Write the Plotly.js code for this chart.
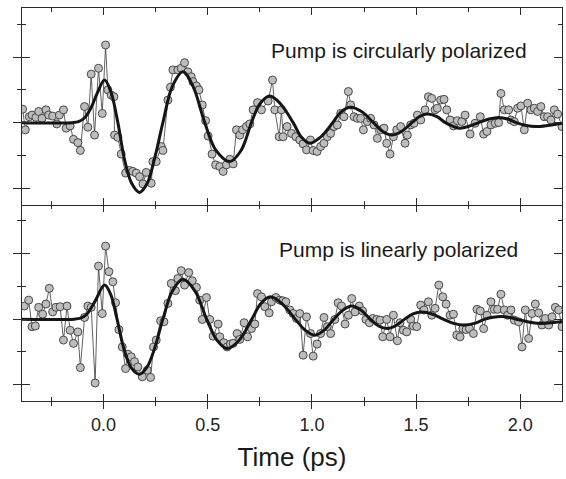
<!DOCTYPE html>
<html>
<head>
<meta charset="utf-8">
<script src="https://cdn.plot.ly/plotly-3.0.1.min.js"></script>
<style>html,body{margin:0;padding:0;background:#fff;}#chart{width:566px;height:479px;}</style>
</head>
<body>
<div id="chart"></div>
<script>
// ---- Data ----
// Top panel: pump circularly polarized (measured points)
var tTop = [-0.388,-0.375,-0.356,-0.343,-0.324,-0.311,-0.295,-0.276,-0.263,-0.244,-0.224,-0.212,-0.192,-0.179,-0.160,-0.144,-0.123,-0.111,-0.091,-0.075,-0.059,-0.043,-0.024,-0.006,0.010,0.021,0.037,0.050,0.053,0.069,0.085,0.106,0.125,0.141,0.157,0.173,0.189,0.205,0.229,0.237,0.253,0.277,0.285,0.309,0.321,0.333,0.357,0.373,0.389,0.405,0.421,0.429,0.446,0.458,0.474,0.490,0.502,0.521,0.538,0.558,0.574,0.590,0.606,0.622,0.638,0.654,0.667,0.686,0.702,0.718,0.739,0.758,0.790,0.811,0.822,0.843,0.854,0.862,0.881,0.902,0.923,0.942,0.958,0.974,0.993,1.006,1.025,1.042,1.058,1.074,1.090,1.106,1.122,1.138,1.154,1.175,1.186,1.202,1.218,1.234,1.247,1.266,1.282,1.298,1.314,1.330,1.346,1.359,1.375,1.391,1.407,1.426,1.447,1.458,1.474,1.490,1.506,1.522,1.543,1.559,1.575,1.591,1.602,1.618,1.634,1.647,1.663,1.679,1.698,1.719,1.735,1.759,1.783,1.808,1.824,1.840,1.859,1.880,1.896,1.907,1.923,1.944,1.955,1.971,1.987,2.003,2.019,2.035,2.051,2.067,2.083,2.099,2.115,2.131,2.147,2.163,2.179,2.200];
var vTop = [0.41,-0.22,0.18,0.23,0.16,0.34,0.13,0.39,0.23,0.20,-0.04,0.23,0.39,-0.17,-0.10,-0.51,-0.61,-0.85,0.49,-0.14,1.48,-0.38,1.66,0.28,2.37,1.00,0.84,0.79,-0.38,-0.45,-0.96,-1.54,-1.46,-1.49,-1.54,-1.65,-1.87,-1.52,-1.85,-1.19,-1.19,-0.73,-0.85,0.69,1.08,1.61,1.61,1.66,1.83,1.55,1.40,1.25,1.12,1.00,0.54,0.06,-0.41,-0.96,-1.29,-1.34,-1.49,-1.29,-1.12,-1.26,-0.22,-0.38,-0.22,-0.12,-0.04,0.39,0.61,0.39,0.66,1.30,0.39,-0.43,0.39,-0.43,-0.12,-0.33,-0.43,-0.53,-0.65,-0.83,-0.53,-0.85,-0.88,-0.73,-0.63,-0.43,-0.33,-0.12,-0.07,0.28,0.18,0.95,0.54,0.18,0.13,0.13,-0.22,0.03,0.13,-0.07,-0.48,-0.22,-0.17,-0.63,-0.96,-0.43,-0.22,-0.12,-0.63,-0.38,-0.07,-0.02,0.23,0.08,0.39,0.79,0.74,0.39,0.44,0.69,0.71,0.39,0.08,-0.10,0.06,0.03,0.23,-0.35,-0.02,0.18,-0.35,-0.27,-0.07,-0.02,0.00,0.89,0.39,0.39,0.08,0.03,0.44,0.51,-0.22,0.59,0.39,0.44,0.34,0.49,0.18,0.18,0.08,0.39,0.26,-0.12];
// Top panel fit curve
var tFitTop = [-0.391,-0.15,-0.12,-0.09,-0.06,-0.03,0.005,0.035,0.069,0.10,0.135,0.173,0.21,0.245,0.285,0.33,0.381,0.43,0.486,0.54,0.606,0.66,0.71,0.75,0.798,0.85,0.91,0.95,0.99,1.04,1.10,1.14,1.186,1.24,1.295,1.34,1.383,1.43,1.48,1.515,1.551,1.60,1.64,1.68,1.711,1.75,1.80,1.85,1.896,1.94,1.98,2.03,2.072,2.13,2.20];
var vFitTop = [0,0,0.03,0.15,0.45,0.90,1.30,0.95,0.0,-1.1,-1.85,-2.13,-1.85,-1.1,0.0,1.1,1.55,1.1,0.0,-0.85,-1.19,-0.85,0.0,0.57,0.81,0.57,0.0,-0.45,-0.63,-0.45,0.0,0.33,0.47,0.33,0.0,-0.27,-0.38,-0.27,0.0,0.18,0.26,0.18,0.0,-0.12,-0.17,-0.12,0.0,0.11,0.16,0.11,0.0,-0.09,-0.12,-0.09,-0.02];

// Bottom panel: pump linearly polarized (measured points)
var tBot = [-0.380,-0.359,-0.343,-0.327,-0.311,-0.292,-0.276,-0.260,-0.244,-0.228,-0.208,-0.192,-0.175,-0.160,-0.144,-0.123,-0.111,-0.091,-0.075,-0.059,-0.040,-0.024,-0.006,0.010,0.026,0.045,0.058,0.074,0.090,0.106,0.117,0.133,0.149,0.165,0.186,0.210,0.226,0.240,0.253,0.274,0.290,0.309,0.325,0.345,0.357,0.373,0.389,0.409,0.426,0.446,0.462,0.474,0.494,0.510,0.526,0.550,0.558,0.577,0.593,0.609,0.622,0.641,0.654,0.675,0.691,0.710,0.726,0.739,0.758,0.774,0.795,0.806,0.827,0.846,0.860,0.875,0.894,0.910,0.926,0.942,0.958,0.974,0.993,1.006,1.025,1.042,1.058,1.074,1.090,1.110,1.126,1.142,1.159,1.175,1.191,1.207,1.227,1.243,1.259,1.276,1.292,1.311,1.327,1.340,1.359,1.375,1.391,1.410,1.423,1.439,1.455,1.474,1.487,1.503,1.522,1.538,1.559,1.575,1.591,1.609,1.628,1.644,1.663,1.679,1.695,1.711,1.724,1.740,1.756,1.775,1.792,1.808,1.824,1.840,1.859,1.875,1.891,1.907,1.923,1.939,1.955,1.971,1.992,2.008,2.024,2.040,2.056,2.072,2.088,2.104,2.120,2.136,2.152,2.168,2.184,2.200];
var vBot = [0.40,0.58,-0.23,-0.21,0.36,0.15,0.46,0.94,0.22,0.36,0.38,-0.64,0.40,-0.34,-0.74,-0.39,-1.48,0.05,0.40,0.36,-1.95,1.62,0.17,2.23,1.45,1.14,0.50,-0.32,-0.85,-1.51,-1.07,-1.15,-1.30,-1.46,-1.76,-1.56,-1.78,-0.85,-0.64,-0.05,-0.08,0.48,1.09,0.87,1.24,1.48,1.04,1.42,1.17,0.97,0.58,-0.01,0.66,-0.01,-0.52,-0.15,-0.54,-0.72,-0.85,-0.76,-0.74,-0.44,-0.62,-0.11,-0.54,-0.29,-0.15,0.78,0.68,0.38,0.19,0.53,0.66,0.58,0.56,0.53,0.28,0.17,0.02,0.17,-1.10,0.07,-0.44,-1.13,-0.76,-0.44,0.05,-0.23,-0.44,-0.01,0.50,0.40,-0.15,0.12,0.63,0.22,0.40,0.25,-0.01,-0.11,0.02,-0.01,-0.03,-0.54,-0.01,-0.54,0.12,-0.66,-0.11,-0.34,-0.39,-0.01,-0.21,-0.23,0.43,0.28,0.53,0.12,0.33,1.04,0.68,0.46,0.12,0.15,-0.49,-0.54,-0.29,-0.32,-0.29,-0.44,0.30,0.25,-0.29,0.12,0.53,0.30,0.30,0.76,0.28,0.12,0.28,-0.03,-0.08,-0.85,0.28,-0.59,0.17,0.46,0.19,-0.18,0.02,-0.18,0.07,0.36,0.28,-0.23];
// Bottom panel fit curve
var tFitBot = [-0.391,-0.14,-0.11,-0.08,-0.04,0.005,0.035,0.065,0.10,0.135,0.173,0.21,0.245,0.285,0.33,0.381,0.44,0.495,0.545,0.593,0.65,0.712,0.755,0.801,0.86,0.92,0.97,1.015,1.06,1.105,1.15,1.19,1.235,1.28,1.32,1.36,1.40,1.445,1.485,1.527,1.58,1.63,1.68,1.727,1.78,1.83,1.87,1.91,1.95,2.00,2.06,2.10,2.15,2.20];
var vFitBot = [0,0,0.03,0.15,0.55,1.04,0.75,0.0,-0.95,-1.5,-1.68,-1.45,-0.9,0.0,0.85,1.22,0.85,0.0,-0.65,-0.90,-0.65,0.0,0.48,0.68,0.45,0.0,-0.35,-0.49,-0.33,0.0,0.28,0.40,0.28,0.0,-0.21,-0.29,-0.21,0.0,0.16,0.22,0.15,0.0,-0.13,-0.18,-0.13,0.0,0.06,0.08,0.05,-0.03,-0.11,-0.13,-0.11,-0.07];

var xTickVals = [0, 0.5, 1.0, 1.5, 2.0];
var xTickText = ['0.0', '0.5', '1.0', '1.5', '2.0'];
var panelLabels = ['Pump is circularly polarized', 'Pump is linearly polarized'];
var xTitle = 'Time (ps)';

// ---- Styles ----
var FONT = 'Liberation Sans, Arial, Helvetica, sans-serif';
var AX = '#2b2b2b';
var XR = [-0.391, 2.2];
var YR = [-2.5, 3.5];

function dataTrace(t, v, xa, ya) {
  return {x: t, y: v, xaxis: xa, yaxis: ya, type: 'scatter', mode: 'lines+markers',
    line: {color: '#3a3a3a', width: 0.8},
    marker: {size: 8, color: '#bdbdbd', line: {color: '#3a3a3a', width: 0.9}},
    hoverinfo: 'skip', showlegend: false, cliponaxis: true};
}
function fitTrace(t, v, xa, ya) {
  return {x: t, y: v, xaxis: xa, yaxis: ya, type: 'scatter', mode: 'lines',
    line: {color: '#151515', width: 3, shape: 'spline', smoothing: 1},
    hoverinfo: 'skip', showlegend: false};
}

var traces = [
  dataTrace(tTop, vTop, 'x', 'y'), fitTrace(tFitTop, vFitTop, 'x', 'y'),
  dataTrace(tBot, vBot, 'x2', 'y2'), fitTrace(tFitBot, vFitBot, 'x2', 'y2')
];

function xBase(extra) {
  var o = {range: XR, showgrid: false, zeroline: false, showline: true, linecolor: AX, linewidth: 1,
    tickvals: xTickVals, ticktext: xTickText, tickcolor: AX, tickwidth: 1, ticklen: 7,
    minor: {dtick: 0.25, tick0: 0, ticklen: 4, tickcolor: AX, tickwidth: 1},
    fixedrange: true};
  for (var k in extra) o[k] = extra[k];
  return o;
}
function yBase(extra) {
  var o = {range: YR, showgrid: false, zeroline: false, showline: true, linecolor: AX, linewidth: 1,
    dtick: 2, tick0: 0, tickcolor: AX, tickwidth: 1, ticklen: 8, showticklabels: false,
    minor: {dtick: 1, tick0: 0, ticklen: 4, tickcolor: AX, tickwidth: 1},
    fixedrange: true};
  for (var k in extra) o[k] = extra[k];
  return o;
}

var layout = {
  width: 566, height: 479,
  margin: {l: 22, r: 4, t: 8, b: 78},
  paper_bgcolor: '#ffffff', plot_bgcolor: '#ffffff',
  font: {family: FONT, color: '#222222'},
  showlegend: false,
  xaxis: xBase({domain: [0, 1], anchor: 'y', ticks: 'inside', mirror: 'ticks', showticklabels: false,
    minor: {dtick: 0.25, tick0: 0, ticklen: 4, tickcolor: AX, tickwidth: 1, ticks: 'inside'}}),
  yaxis: yBase({domain: [0.5, 1], anchor: 'x', ticks: 'outside', mirror: true,
    minor: {dtick: 1, tick0: 0, ticklen: 4, tickcolor: AX, tickwidth: 1, ticks: 'outside'}}),
  xaxis2: xBase({domain: [0, 1], anchor: 'y2', ticks: 'outside', mirror: false, showticklabels: true,
    tickfont: {size: 18, family: FONT, color: '#222'},
    title: {text: xTitle, font: {size: 26, family: FONT, color: '#1a1a1a'}, standoff: 14},
    minor: {dtick: 0.25, tick0: 0, ticklen: 4, tickcolor: AX, tickwidth: 1, ticks: 'outside'}}),
  yaxis2: yBase({domain: [0, 0.5], anchor: 'x2', ticks: 'outside', mirror: true,
    minor: {dtick: 1, tick0: 0, ticklen: 4, tickcolor: AX, tickwidth: 1, ticks: 'outside'}}),
  // overlay axes supplying the inward half of crossing ticks
  xaxis3: xBase({overlaying: 'x2', anchor: 'y2', ticks: 'inside', mirror: 'ticks', showticklabels: false, showline: false,
    minor: {dtick: 0.25, tick0: 0, ticklen: 4, tickcolor: AX, tickwidth: 1, ticks: 'inside'}}),
  yaxis3: yBase({overlaying: 'y', anchor: 'x', ticks: 'inside', mirror: 'ticks', showline: false,
    minor: {dtick: 1, tick0: 0, ticklen: 4, tickcolor: AX, tickwidth: 1, ticks: 'inside'}}),
  yaxis4: yBase({overlaying: 'y2', anchor: 'x2', ticks: 'inside', mirror: 'ticks', showline: false,
    minor: {dtick: 1, tick0: 0, ticklen: 4, tickcolor: AX, tickwidth: 1, ticks: 'inside'}}),
  annotations: [
    {text: panelLabels[0], xref: 'x', yref: 'y', x: 2.04, y: 2.2, xanchor: 'right', yanchor: 'middle',
     showarrow: false, font: {size: 21, family: FONT, color: '#1a1a1a'}},
    {text: panelLabels[1], xref: 'x2', yref: 'y2', x: 2.0, y: 2.12, xanchor: 'right', yanchor: 'middle',
     showarrow: false, font: {size: 21, family: FONT, color: '#1a1a1a'}}
  ]
};

// dummy invisible traces so overlay axes are instantiated
traces.push({x: [], y: [], xaxis: 'x3', yaxis: 'y2', type: 'scatter', mode: 'markers', hoverinfo: 'skip', showlegend: false});
traces.push({x: [], y: [], xaxis: 'x', yaxis: 'y3', type: 'scatter', mode: 'markers', hoverinfo: 'skip', showlegend: false});
traces.push({x: [], y: [], xaxis: 'x2', yaxis: 'y4', type: 'scatter', mode: 'markers', hoverinfo: 'skip', showlegend: false});

Plotly.newPlot('chart', traces, layout, {staticPlot: true, displayModeBar: false});
</script>
</body>
</html>
